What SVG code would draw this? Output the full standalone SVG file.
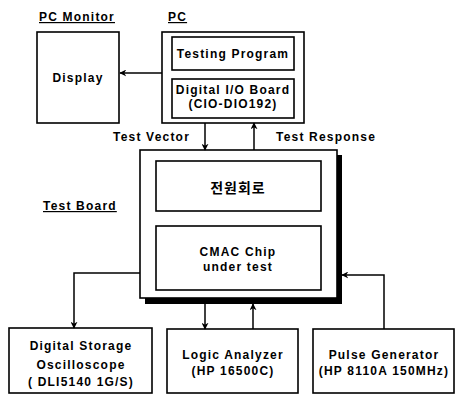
<svg xmlns="http://www.w3.org/2000/svg" width="456" height="396" viewBox="0 0 456 396">
<defs>
<marker id="ah" viewBox="0 0 10 10" refX="9" refY="5" markerWidth="7" markerHeight="7" markerUnits="userSpaceOnUse" orient="auto">
<path d="M0,0 L10,5 L0,10 L3,5 Z" fill="#000"/>
</marker>
<style>
text{font-family:"Liberation Sans",Arial,sans-serif;font-weight:bold;font-size:12px;fill:#000;letter-spacing:1.2px}
.m{text-anchor:middle}
.ko{font-family:"Noto Sans CJK KR","Liberation Sans",sans-serif;font-size:14px;letter-spacing:1px}
.box{fill:#fff;stroke:#000;stroke-width:1.6}
.c{fill:none;stroke:#000;stroke-width:1.5;marker-end:url(#ah)}
.u{text-decoration:underline}
</style>
</defs>
<rect width="456" height="396" fill="#fff"/>

<g id="pc-monitor">
<text x="39" y="21" class="u">PC Monitor</text>
<rect class="box" x="37" y="32" width="82" height="91"/>
<text x="78" y="82" class="m">Display</text>
</g>

<g id="pc">
<text x="168" y="21" class="u">PC</text>
<rect class="box" x="162" y="32" width="142" height="91"/>
<g id="testing-program">
<rect class="box" x="172" y="37" width="122" height="33"/>
<text x="233" y="58" class="m">Testing Program</text>
</g>
<g id="dio-board">
<rect class="box" x="172" y="79" width="122" height="39"/>
<text x="233" y="94" class="m">Digital I/O Board</text>
<text x="233" y="108" class="m">(CIO-DIO192)</text>
</g>
</g>

<g id="test-board">
<text x="43" y="210" class="u">Test Board</text>
<rect x="145" y="155" width="197" height="149" fill="#000"/>
<rect class="box" x="140" y="150" width="197" height="148"/>
<g id="power-circuit">
<rect class="box" x="156" y="161" width="165" height="50"/>
<text x="238" y="193" class="m ko">전원회로</text>
</g>
<g id="cmac-chip">
<rect class="box" x="156" y="226" width="165" height="64"/>
<text x="238" y="256" class="m">CMAC Chip</text>
<text x="238" y="271" class="m">under test</text>
</g>
</g>

<g id="oscilloscope">
<rect class="box" x="9" y="328" width="143" height="65"/>
<text x="81" y="350" class="m">Digital Storage</text>
<text x="81" y="369" class="m">Oscilloscope</text>
<text x="81" y="386" class="m">( DLI5140 1G/S)</text>
</g>

<g id="logic-analyzer">
<rect class="box" x="167" y="329" width="131" height="64"/>
<text x="233" y="359" class="m">Logic Analyzer</text>
<text x="233" y="375" class="m">(HP 16500C)</text>
</g>

<g id="pulse-generator">
<rect class="box" x="313" y="329" width="141" height="64"/>
<text x="384" y="359" class="m">Pulse Generator</text>
<text x="384" y="375" class="m">(HP 8110A 150MHz)</text>
</g>

<g id="connectors">
<path class="c" d="M162,73 H120"/>
<path class="c" d="M205,123 V150"/>
<path class="c" d="M254,150 V123"/>
<path class="c" d="M140,273 H74 V328"/>
<path class="c" d="M205,304 V329"/>
<path class="c" d="M253,329 V304"/>
<path class="c" d="M384,329 V275 H342"/>
<text x="113" y="141">Test Vector</text>
<text x="276" y="141">Test Response</text>
</g>
</svg>
